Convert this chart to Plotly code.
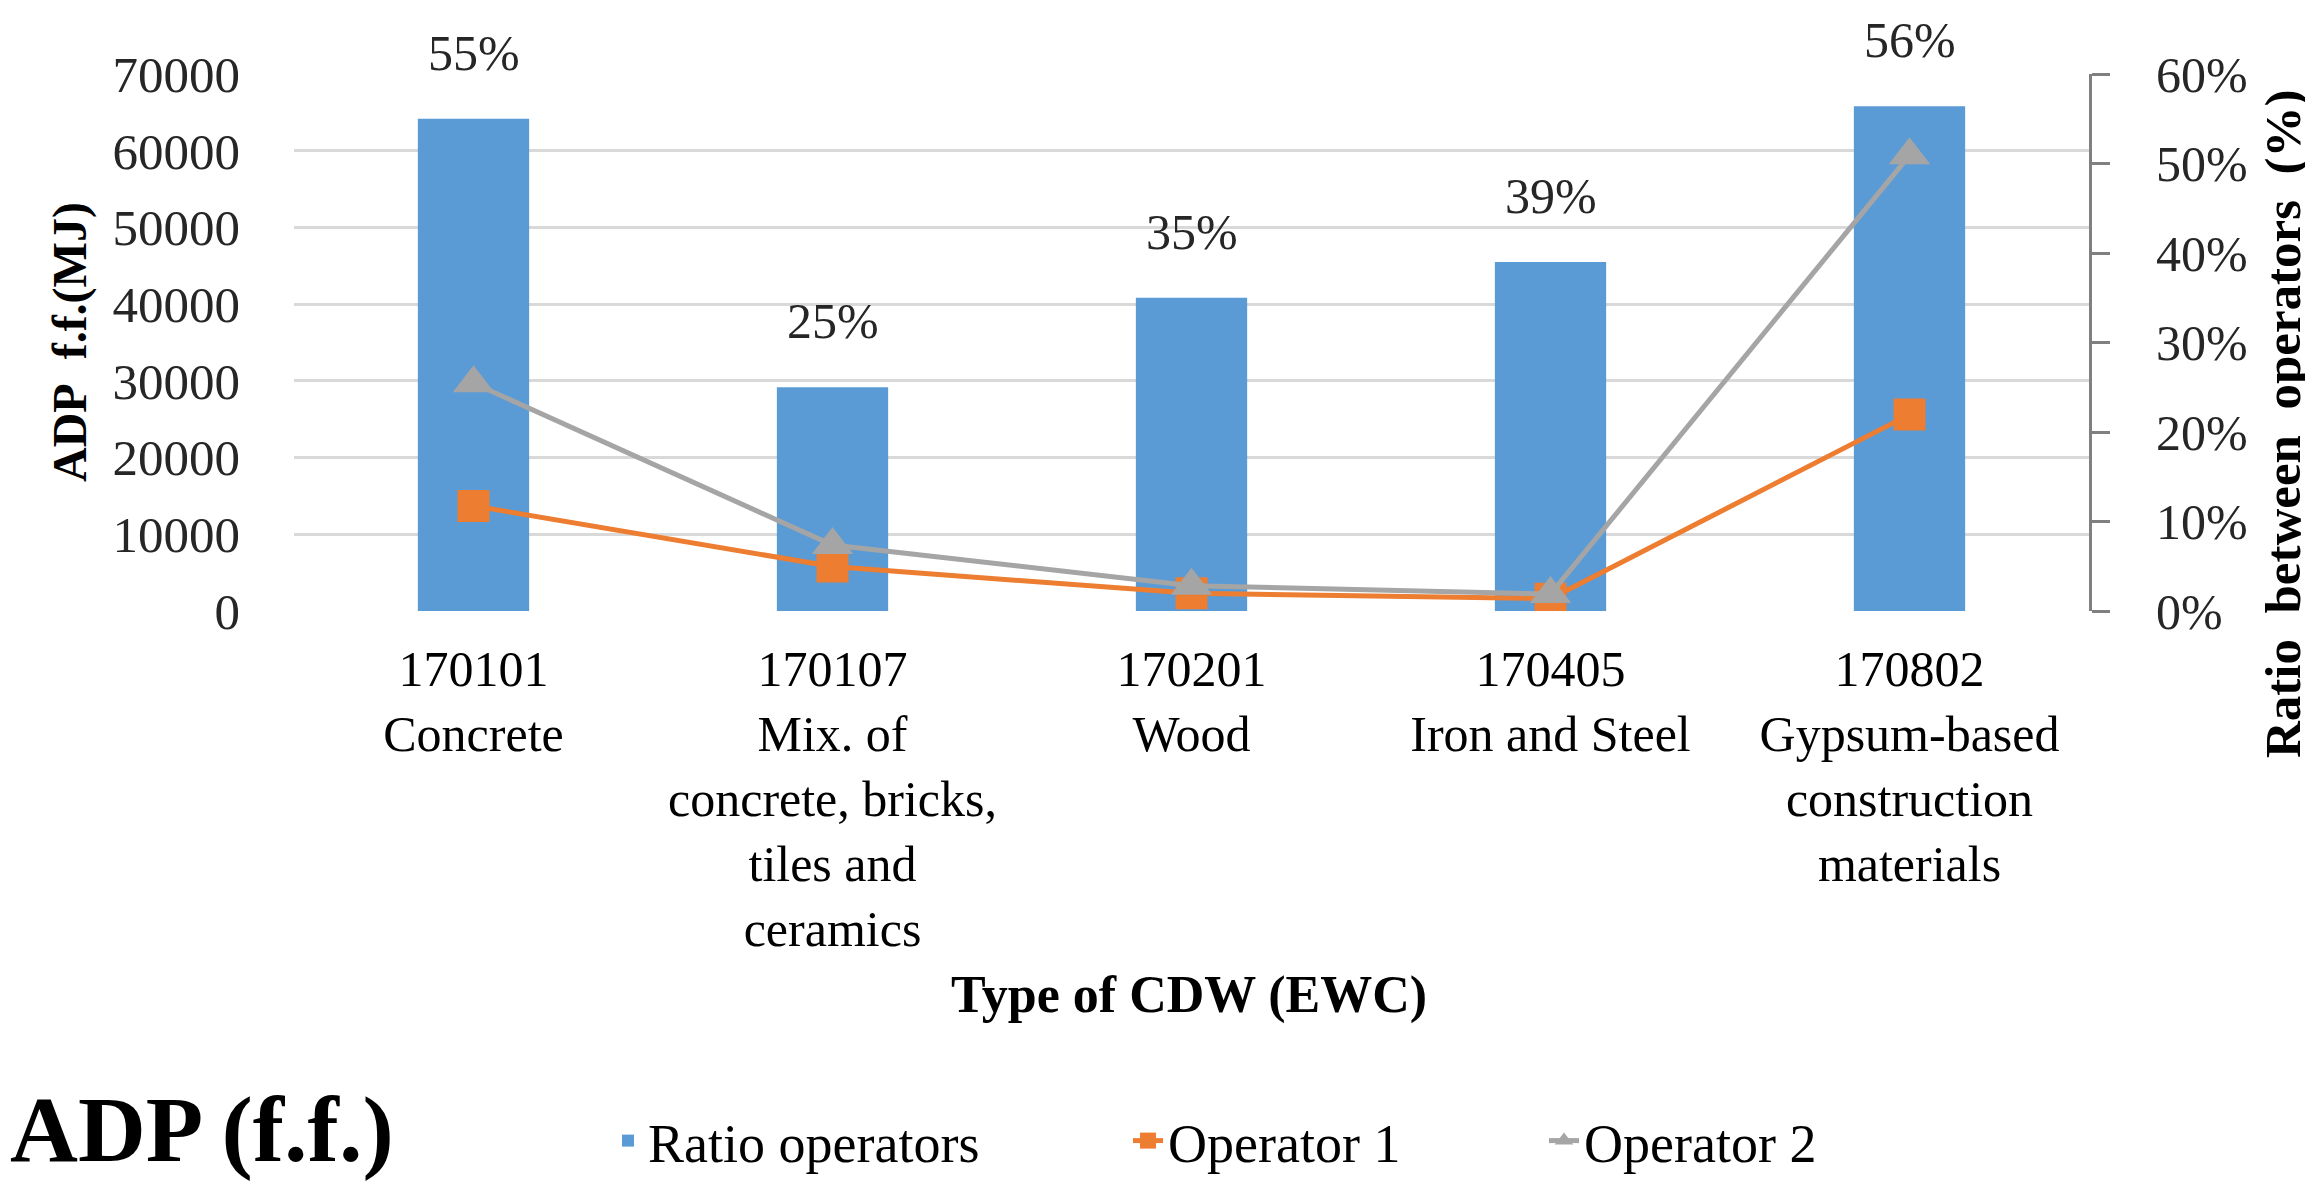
import plotly.graph_objects as go

categories = [
    "170101<br>Concrete",
    "170107<br>Mix. of<br>concrete, bricks,<br>tiles and<br>ceramics",
    "170201<br>Wood",
    "170405<br>Iron and Steel",
    "170802<br>Gypsum-based<br>construction<br>materials",
]
ratio_operators = [0.55, 0.25, 0.35, 0.39, 0.564]
operator_1 = [13700, 5800, 2300, 1600, 25600]
operator_2 = [29700, 8600, 3300, 2200, 59400]

left_ticks = [0, 10000, 20000, 30000, 40000, 50000, 60000, 70000]
right_ticks = [0, 0.1, 0.2, 0.3, 0.4, 0.5, 0.6]

W, H = 2313, 1190
L, R, T, B = 286, 2313 - 2081, 66, 1190 - 603
PW, PH = W - L - R, H - T - B


def px(x):
    return (x - L) / PW


def py(y):
    return (H - B - y) / PH


FONT = "Liberation Serif, Times New Roman, serif"
BLUE, ORANGE, GRAY = "#5b9bd5", "#ed7d31", "#a5a5a5"

fig = go.Figure()
fig.add_trace(go.Bar(
    x=categories, y=ratio_operators, name="Ratio operators",
    marker=dict(color=BLUE, line=dict(width=0)), yaxis="y", legend="legend",
    showlegend=True,
))
fig.add_trace(go.Scatter(
    x=categories, y=operator_1, name="Operator 1", mode="lines+markers",
    line=dict(color=ORANGE, width=5), marker=dict(symbol="square", size=32, color=ORANGE),
    yaxis="y2", legend="legend2", showlegend=True,
))
fig.add_trace(go.Scatter(
    x=categories, y=operator_2, name="Operator 2", mode="lines+markers",
    line=dict(color=GRAY, width=5), marker=dict(symbol="triangle-up", size=36, color=GRAY),
    yaxis="y2", legend="legend3", showlegend=True,
))

annotations = []
for c, v in zip(categories, ratio_operators):
    annotations.append(dict(
        x=c, y=v, xref="x", yref="y", text=f"{v:.0%}", showarrow=False,
        yanchor="bottom", yshift=36, font=dict(family=FONT, size=50, color="#262626"),
    ))

annotations += [
    dict(x=px(1181), y=py(987), xref="paper", yref="paper", text="<b>Type of CDW (EWC)</b>",
         showarrow=False, xanchor="center", yanchor="middle",
         font=dict(family=FONT, size=52, color="#000000")),
    dict(x=px(62), y=py(334), xref="paper", yref="paper", text="<b>ADP\u00a0 f.f.(MJ)</b>",
         showarrow=False, xanchor="center", yanchor="middle", textangle=-90,
         font=dict(family=FONT, size=48, color="#000000")),
    dict(x=px(2275), y=py(416), xref="paper", yref="paper",
         text="<b>Ratio\u00a0 between\u00a0 operators\u00a0 (%)</b>",
         showarrow=False, xanchor="center", yanchor="middle", textangle=-90,
         font=dict(family=FONT, size=51, color="#000000")),
    dict(x=px(0), y=py(1121), xref="paper", yref="paper", text="<b>ADP (f.f.)</b>",
         showarrow=False, xanchor="left", yanchor="middle",
         font=dict(family=FONT, size=94, color="#000000")),
]

legend_common = dict(orientation="h", yanchor="middle", xanchor="left", bgcolor="rgba(0,0,0,0)",
                     font=dict(family=FONT, size=54, color="#000000"))

fig.update_layout(
    width=W, height=H,
    margin=dict(l=L, r=R, t=T, b=B, autoexpand=False),
    paper_bgcolor="white", plot_bgcolor="white",
    bargap=0.69,
    showlegend=True,
    font=dict(family=FONT, size=50, color="#262626"),
    xaxis=dict(
        type="category", showgrid=False, showline=False, zeroline=False, ticks="",
        tickfont=dict(family=FONT, size=50, color="#000000"), ticklabelstandoff=24,
    ),
    yaxis=dict(
        side="right", range=[0, 0.6], tickvals=right_ticks, tickformat=".0%",
        showgrid=False, zeroline=False, showline=True, linecolor="#808080", linewidth=3,
        ticks="outside", ticklen=18, tickwidth=3, tickcolor="#808080",
        tickfont=dict(family=FONT, size=50, color="#262626"), ticklabelstandoff=36,
    ),
    yaxis2=dict(
        overlaying="y", side="left", range=[0, 70000], tickvals=left_ticks, tickformat="d",
        showgrid=True, gridcolor="#d9d9d9", gridwidth=3, zeroline=False, showline=False,
        ticks="", tickfont=dict(family=FONT, size=51, color="#262626"), ticklabelstandoff=53,
    ),
    legend=dict(x=px(600), y=py(1133), **legend_common),
    legend2=dict(x=px(1120), y=py(1133), **legend_common),
    legend3=dict(x=px(1536), y=py(1133), **legend_common),
    annotations=annotations,
)

fig.write_html("out.html")
